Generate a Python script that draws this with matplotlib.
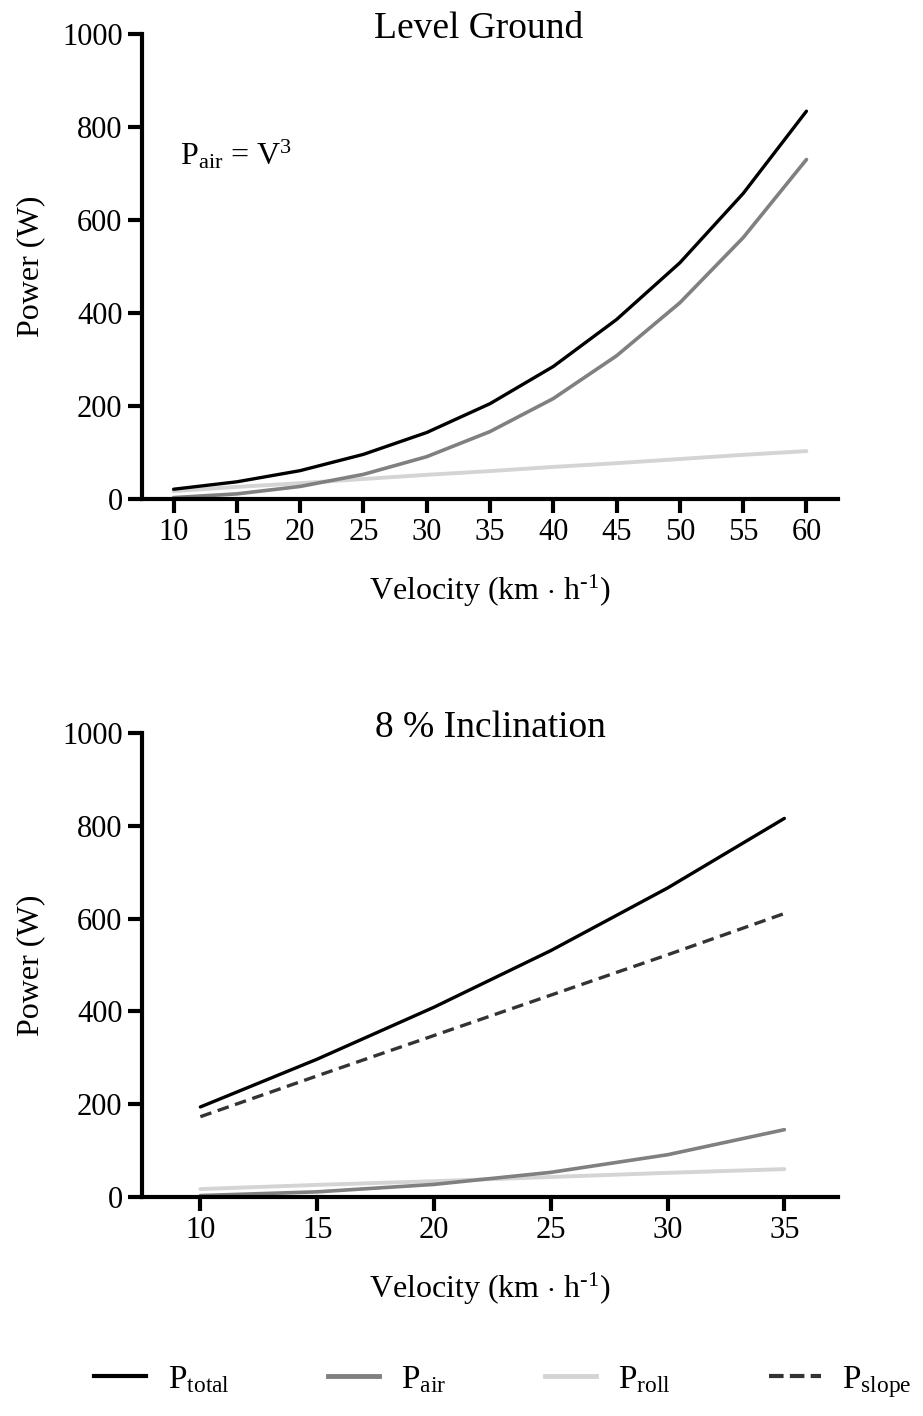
import numpy as np
import matplotlib
matplotlib.use('Agg')
import matplotlib.pyplot as plt

plt.rcParams['font.family'] = ['Liberation Serif', 'DejaVu Serif']
plt.rcParams['mathtext.fontset'] = 'custom'
plt.rcParams['mathtext.rm'] = 'Liberation Serif'
plt.rcParams['mathtext.it'] = 'Liberation Serif:italic'
plt.rcParams['font.size'] = 22

# level ground data
v_level = [10, 15, 20, 25, 30, 35, 40, 45, 50, 55, 60]
total_level = [21, 37, 61, 96, 143, 205, 285, 386, 508, 657, 834]
air_level = [3, 11, 27, 53, 91, 145, 216, 308, 422, 562, 730]
roll_level = [17, 26, 34, 43, 52, 60, 69, 77, 86, 95, 103]

# 8 % inclination data
v_incl = [10, 15, 20, 25, 30, 35]
total_incl = [194, 297, 409, 531, 666, 816]
air_incl = [3, 11, 27, 53, 91, 145]
roll_incl = [17, 26, 34, 43, 52, 60]
slope_incl = [173, 261, 348, 435, 522, 611]

c_total = 'black'
c_air = '#808080'
c_roll = '#d4d4d4'
c_slope = '#333333'
lw = 2.4

fig = plt.figure(figsize=(9.23, 14.16), dpi=100)
ax1 = fig.add_axes([0.1538, 0.6476, 0.908 - 0.1538, 0.976 - 0.6476])
ax2 = fig.add_axes([0.1538, 0.1547, 0.908 - 0.1538, 0.4823 - 0.1547])

def style(ax):
    for s in ['top', 'right']:
        ax.spines[s].set_visible(False)
    for s in ['left', 'bottom']:
        ax.spines[s].set_linewidth(3)
    ax.tick_params(direction='out', length=10, width=3, pad=4)
    ax.set_ylim(0, 1000)
    ax.set_yticks([0, 200, 400, 600, 800, 1000])
    ax.set_ylabel('Power (W)', labelpad=12, fontsize=23)
    ax.set_xlabel('Velocity (km $\\cdot$ h$^{\\mathregular{\u20101}}$)', labelpad=18, fontsize=23)

ax1.plot(v_level, roll_level, color=c_roll, lw=lw + 0.4, solid_capstyle='round')
ax1.plot(v_level, air_level, color=c_air, lw=lw + 0.2, solid_capstyle='round')
ax1.plot(v_level, total_level, color=c_total, lw=lw, solid_capstyle='round')
ax1.set_xlim(7.5, 62.5)
ax1.set_xticks(v_level)
style(ax1)
ax1.set_title('Level Ground', pad=-3, y=1.0, fontsize=27, x=0.483)
ax1.text(10.5, 740, r'P$_{\mathregular{air}}$ = V$^{\mathregular{3}}$', fontsize=23, va='center')

ax2.plot(v_incl, roll_incl, color=c_roll, lw=lw + 0.4, solid_capstyle='round')
ax2.plot(v_incl, air_incl, color=c_air, lw=lw + 0.2, solid_capstyle='round')
ax2.plot(v_incl, total_incl, color=c_total, lw=lw, solid_capstyle='round')
ax2.plot(v_incl, slope_incl, color=c_slope, lw=lw, ls=(0, (3.5, 2)))
ax2.set_xlim(7.5, 37.3)
ax2.set_xticks(v_incl)
style(ax2)
ax2.set_title('8 % Inclination', pad=-3, y=1.0, fontsize=27)

handles = [
    plt.Line2D([], [], color=c_total, lw=3),
    plt.Line2D([], [], color=c_air, lw=3.5),
    plt.Line2D([], [], color=c_roll, lw=3.5),
    plt.Line2D([], [], color=c_slope, lw=3, ls=(0, (3.5, 1.5))),
]
labels = [r'P$_{\mathregular{total}}$', r'P$_{\mathregular{air}}$',
          r'P$_{\mathregular{roll}}$', r'P$_{\mathregular{slope}}$']
fig.legend(handles, labels, loc='center', bbox_to_anchor=(0.545, 0.024), ncol=4,
           frameon=False, handlelength=1.55, handletextpad=0.65, columnspacing=2.95,
           fontsize=24)

fig.savefig('out.png', dpi=100)
